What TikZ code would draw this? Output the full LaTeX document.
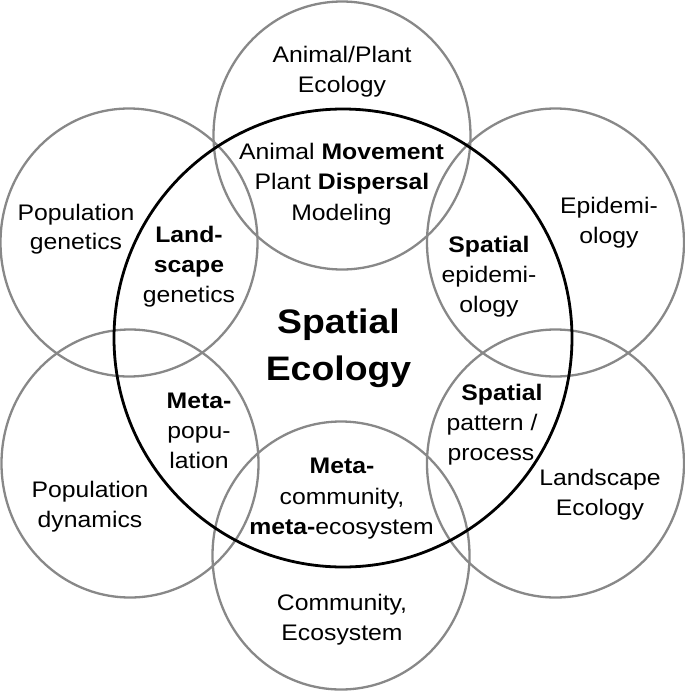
\documentclass[tikz,border=0pt]{standalone}
\usepackage{fontspec}
\setmainfont{Liberation Sans}[FakeStretch=1.1]
\usetikzlibrary{shapes.geometric}
\definecolor{ringgray}{RGB}{136,136,136}
\begin{document}
\begin{tikzpicture}[x=1pt,y=-1pt,
  ring/.style={draw=ringgray, line width=2.3pt, ellipse, inner sep=0pt,
               minimum width=257pt, minimum height=268pt},
  core/.style={draw=black, line width=2.8pt, circle, inner sep=0pt,
               minimum size=458pt},
  lbl/.style={anchor=base, inner sep=0pt, font=\fontsize{22.5}{30}\selectfont},
  big/.style={anchor=base, inner sep=0pt, font=\fontsize{34}{47}\selectfont\bfseries}]
\useasboundingbox (0,0) rectangle (685,691);

% outer discipline rings
\node[ring] (ringtop) at (342,135.5) {};
\node[ring] (ringul)  at (129,242.5) {};
\node[ring] (ringur)  at (555.5,242.5) {};
\node[ring] (ringll)  at (130,463.5) {};
\node[ring] (ringlr)  at (555.5,463.5) {};
\node[ring] (ringbot) at (341,555.5) {};
% central circle
\node[core] (core) at (343,338) {};

% top ring
\node[lbl] (tA1) at (342,62) {Animal/Plant};
\node[lbl] (tA2) at (342,92) {Ecology};
% movement
\node[lbl] (tM1) at (341.5,159) {Animal \textbf{Movement}};
\node[lbl] (tM2) at (342,189) {Plant \textbf{Dispersal}};
\node[lbl] (tM3) at (341.5,220) {Modeling};
% population genetics
\node[lbl] (tPG1) at (76,220) {Population};
\node[lbl] (tPG2) at (76,249) {genetics};
% landscape genetics
\node[lbl] (tLG1) at (189,242) {\textbf{Land-}};
\node[lbl] (tLG2) at (189,272) {\textbf{scape}};
\node[lbl] (tLG3) at (189,302) {genetics};
% epidemiology
\node[lbl] (tE1) at (609,213) {Epidemi-};
\node[lbl] (tE2) at (609,243) {ology};
% spatial epidemiology
\node[lbl] (tSE1) at (489,252) {\textbf{Spatial}};
\node[lbl] (tSE2) at (489,282) {epidemi-};
\node[lbl] (tSE3) at (489,312) {ology};
% centre
\node[big] (tC1) at (338.5,333) {Spatial};
\node[big] (tC2) at (338.5,380) {Ecology};
% metapopulation
\node[lbl] (tMP1) at (199,408) {\textbf{Meta-}};
\node[lbl] (tMP2) at (199,438) {popu-};
\node[lbl] (tMP3) at (199,468) {lation};
% spatial pattern
\node[lbl] (tSP1) at (502,400) {\textbf{Spatial}};
\node[lbl] (tSP2) at (492,430) {pattern /};
\node[lbl] (tSP3) at (491,460) {process};
% metacommunity
\node[lbl] (tMC1) at (342,473) {\textbf{Meta-}};
\node[lbl] (tMC2) at (342,504) {community,};
\node[lbl] (tMC3) at (341.5,534) {\textbf{meta-}ecosystem};
% population dynamics
\node[lbl] (tPD1) at (90,497) {Population};
\node[lbl] (tPD2) at (90,527) {dynamics};
% landscape ecology
\node[lbl] (tLE1) at (600,485) {Landscape};
\node[lbl] (tLE2) at (600,515) {Ecology};
% community
\node[lbl] (tCE1) at (342,610) {Community,};
\node[lbl] (tCE2) at (342,640) {Ecosystem};
\end{tikzpicture}
\end{document}
